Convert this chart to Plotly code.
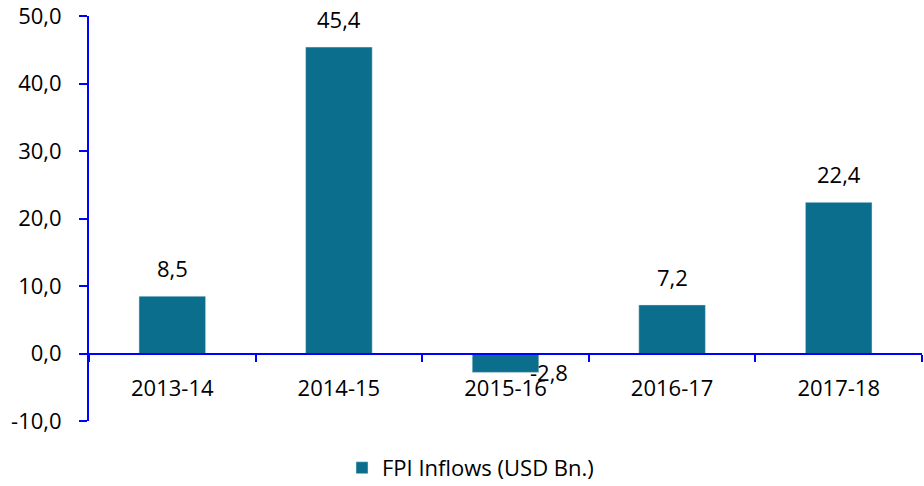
import plotly.graph_objects as go

categories = ["2013-14", "2014-15", "2015-16", "2016-17", "2017-18"]
values = [8.5, 45.4, -2.8, 7.2, 22.4]
series_name = "FPI Inflows (USD Bn.)"
y_ticks = [-10, 0, 10, 20, 30, 40, 50]
y_tick_labels = [f"{t:.1f}".replace(".", ",") for t in y_ticks]

BAR = "#0b6e8c"
AXIS = "#0000ff"
FONT = "Open Sans"

fig = go.Figure()
fig.add_trace(go.Bar(x=categories, y=values, name=series_name, marker=dict(color=BAR),
                     width=0.4, showlegend=True))

for c, v in zip(categories, values):
    label = f"{v:.1f}".replace(".", ",")
    if v >= 0:
        fig.add_annotation(x=c, y=v, text=label, showarrow=False, yanchor="bottom",
                           yshift=11, font=dict(family=FONT, size=22, color="#000"))
    else:
        fig.add_annotation(x=c, y=v, text=label, showarrow=False, yanchor="middle",
                           xshift=43, yshift=0, font=dict(family=FONT, size=22, color="#000"))

fig.update_layout(
    width=924, height=486,
    margin=dict(l=89, r=2, t=16, b=65, autoexpand=False),
    plot_bgcolor="white", paper_bgcolor="white",
    separators=", ",
    font=dict(family=FONT, size=22, color="#000"),
    legend=dict(orientation="h", x=0.458, xanchor="center", y=-0.064, yanchor="top",
                font=dict(family=FONT, size=22), itemwidth=30),
    xaxis=dict(
        type="category", anchor="free", position=1/6, automargin=False,
        showline=True, linecolor=AXIS, linewidth=2,
        ticks="outside", tickson="boundaries", ticklen=7, tickcolor=AXIS, tickwidth=2,
        ticklabelstandoff=15, showgrid=False, zeroline=False,
        range=[-0.5, 4.5],
    ),
    yaxis=dict(
        range=[-10, 50], tickmode="array", tickvals=y_ticks, ticktext=y_tick_labels,
        automargin=False, ticklabeloverflow="allow",
        showline=True, linecolor=AXIS, linewidth=2,
        ticks="outside", ticklen=8, tickcolor=AXIS, tickwidth=2,
        showgrid=False, zeroline=False, ticklabelstandoff=13,
    ),
    bargap=0.6,
)

fig.write_html("out.html", config={"displayModeBar": False},
               post_script="document.body.style.margin='0';")
